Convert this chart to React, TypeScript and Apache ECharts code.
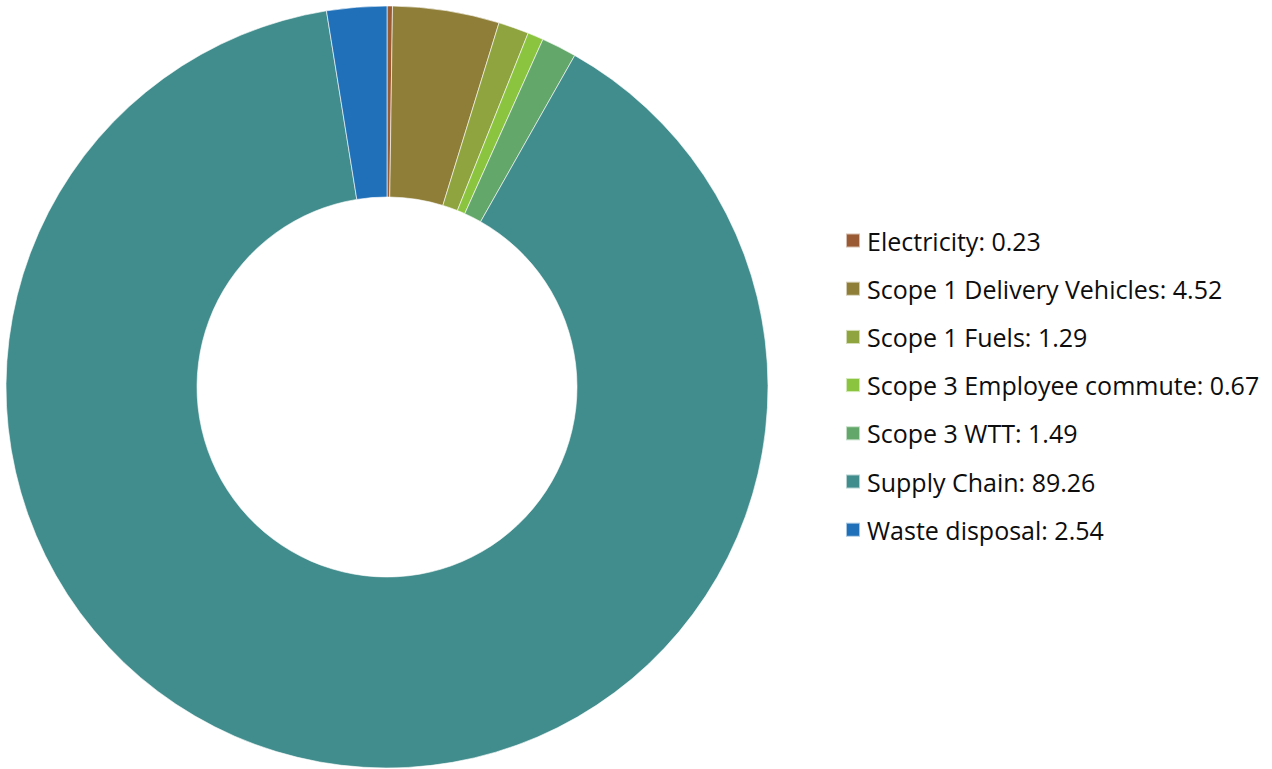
import React, { useEffect, useRef } from "react";
import * as echarts from "echarts";

const categories = [
  "Electricity",
  "Scope 1 Delivery Vehicles",
  "Scope 1 Fuels",
  "Scope 3 Employee commute",
  "Scope 3 WTT",
  "Supply Chain",
  "Waste disposal",
];
const values = [0.23, 4.52, 1.29, 0.67, 1.49, 89.26, 2.54];
const colors = ["#9A5B34", "#8E7E38", "#8FA33E", "#8BC540", "#63A86A", "#418C8C", "#1F70B8"];

export default function App() {
  const ref = useRef<HTMLDivElement>(null);
  useEffect(() => {
    if (!ref.current) return;
    const chart = echarts.init(ref.current, undefined, { renderer: "svg" });
    const data = categories.map((name, i) => ({
      name,
      value: values[i],
      itemStyle: { color: colors[i] },
    }));
    chart.setOption({
      animation: false,
      backgroundColor: "#ffffff",
      legend: {
        orient: "vertical",
        left: 845,
        top: 228,
        padding: 0,
        itemWidth: 14,
        itemHeight: 14,
        itemGap: 23.2,
        icon: "rect",
        textStyle: {
          fontFamily: "Open Sans",
          fontSize: 25,
          lineHeight: 24,
          color: "#0d0d0d",
          padding: [0, 0, 0, 2],
        },
        formatter: (name: string) => {
          const i = categories.indexOf(name);
          return `${name}: ${values[i].toFixed(2)}`;
        },
        selectedMode: false,
      },
      series: [
        {
          type: "pie",
          center: [387, 387],
          radius: [190, 381],
          startAngle: 90,
          clockwise: true,
          label: { show: false },
          labelLine: { show: false },
          emphasis: { disabled: true },
          itemStyle: { borderColor: "rgba(255,255,255,0.6)", borderWidth: 1 },
          data,
        },
      ],
    });
    return () => chart.dispose();
  }, []);
  return (
    <div
      ref={ref}
      style={{ position: "absolute", left: 0, top: 0, width: 1272, height: 769 }}
    />
  );
}
